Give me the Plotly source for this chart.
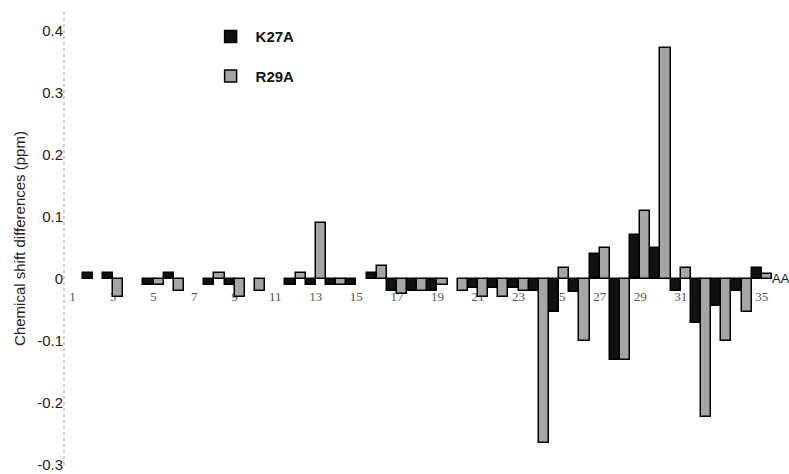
import plotly.graph_objects as go

residues = list(range(1, 36))
k27a = [None, 0.01, 0.01, None, -0.01, 0.01, None, -0.01, -0.01, None,
        None, -0.01, -0.01, -0.01, -0.01, 0.01, -0.02, -0.02, -0.02, None,
        -0.015, -0.015, -0.015, -0.02, -0.053, -0.022, 0.04, -0.13, 0.071, 0.05,
        -0.02, -0.071, -0.043, -0.02, 0.018]
r29a = [None, None, -0.03, None, -0.01, -0.02, None, 0.01, -0.03, -0.02,
        None, 0.01, 0.09, -0.01, None, 0.02, -0.025, -0.02, -0.01, -0.02,
        -0.03, -0.03, -0.02, -0.265, 0.018, -0.10, 0.05, -0.13, 0.11, 0.372,
        0.018, -0.222, -0.10, -0.053, 0.008]
x_tick_vals = list(range(1, 36, 2))
x_tick_text = [str(v) for v in x_tick_vals]
y_tick_vals = [0.4, 0.3, 0.2, 0.1, 0, -0.1, -0.2, -0.3]
y_tick_text = ["0.4", "0.3", "0.2", "0.1", "0", "-0.1", "-0.2", "-0.3"]
y_range = [-0.3, 0.43]

fig = go.Figure()
fig.add_trace(go.Bar(x=residues, y=k27a, name="K27A", legendgroup="a",
                     marker=dict(color="#111111", line=dict(color="#000000", width=1.5))))
fig.add_trace(go.Bar(x=residues, y=r29a, name="R29A", legendgroup="b",
                     marker=dict(color="#a5a5a5", line=dict(color="#000000", width=1.5))))

zero_pos = (0 - y_range[0]) / (y_range[1] - y_range[0])

fig.update_layout(
    width=789, height=474,
    margin=dict(l=64, r=17, t=12, b=9),
    paper_bgcolor="white", plot_bgcolor="white",
    barmode="group", bargap=0, bargroupgap=0,
    font=dict(family="Arial, Liberation Sans, sans-serif", color="#222"),
    showlegend=True,
    legend=dict(x=0.2, y=0.982, xanchor="left", yanchor="top", itemwidth=40,
                font=dict(size=15, family="Arial, Liberation Sans, sans-serif", color="#111", weight="bold"),
                tracegroupgap=17, traceorder="grouped", bgcolor="rgba(0,0,0,0)"),
    xaxis=dict(range=[0.58, 35.5], tickmode="array", tickvals=x_tick_vals, ticktext=x_tick_text,
               showgrid=False, zeroline=False, showline=False, automargin=False,
               anchor="free", position=zero_pos, ticks="outside", ticklen=0,
               ticklabelstandoff=6, layer="below traces",
               tickfont=dict(family="Liberation Serif, Times New Roman, serif", size=13, color="#555")),
    yaxis=dict(range=y_range, tickmode="array", tickvals=y_tick_vals, ticktext=y_tick_text,
               showgrid=False, zeroline=False, showline=False, ticks="", automargin=False,
               tickfont=dict(size=15, color="#222"),
               title=dict(text="Chemical shift differences (ppm)", font=dict(size=15, color="#222"), standoff=7)),
    shapes=[dict(type="line", xref="paper", yref="paper", x0=0, x1=0, y0=0, y1=1,
                 line=dict(color="#999999", width=1, dash="dot"))],
    annotations=[dict(text="AA", xref="paper", yref="y", x=1.0, y=0, xanchor="left", yanchor="middle",
                      showarrow=False, xshift=-2, font=dict(size=13, color="#111"))],
)

fig.write_html("out.html", config={"displayModeBar": False},
               post_script="document.body.style.margin='0';")
